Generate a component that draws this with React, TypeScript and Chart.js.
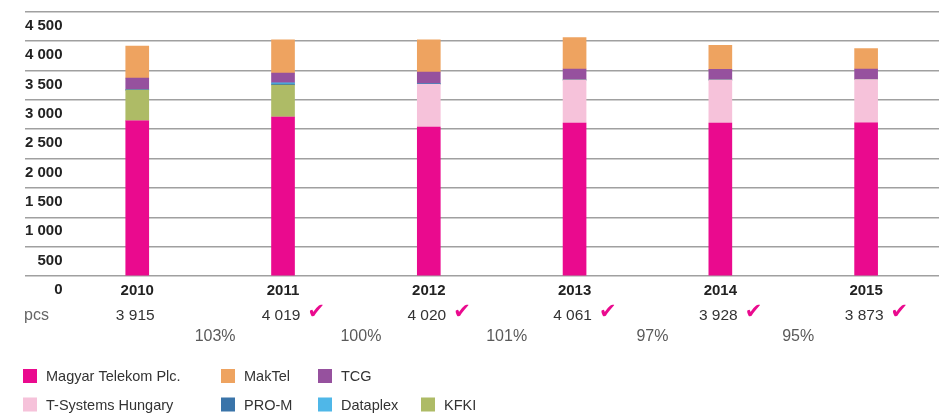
import React, { useEffect, useRef } from 'react';
import { Chart, registerables } from 'chart.js';

Chart.register(...registerables);

// ---- data ----
const years = [2010, 2011, 2012, 2013, 2014, 2015];
const magyarTelekom = [2640, 2707, 2537, 2605, 2605, 2610];
const tSystems = [0, 0, 727, 732, 732, 735];
const kfki = [525, 545, 0, 0, 0, 0];
const proM = [5, 15, 10, 0, 0, 0];
const dataplex = [0, 20, 0, 0, 0, 0];
const tcg = [200, 170, 199, 187, 182, 180];
const makTel = [545, 562, 547, 537, 409, 348];
const pcsTotals = [3915, 4019, 4020, 4061, 3928, 3873];
const pcsChecked = [false, true, true, true, true, true];
const changeLabels = ['103%', '100%', '101%', '97%', '95%'];
const unitLabel = 'pcs';
const legendRows = [
  ['Magyar Telekom Plc.', 'MakTel', 'TCG'],
  ['T-Systems Hungary', 'PRO-M', 'Dataplex', 'KFKI'],
];

const FONT = '"Liberation Sans", Arial, sans-serif';
const fmt = (n: number) => String(n).replace(/\B(?=(\d{3})+(?!\d))/g, ' ');

const COLORS: Record<string, string> = {
  'Magyar Telekom Plc.': '#EA0A8E',
  'T-Systems Hungary': '#F6C2DA',
  KFKI: '#AEBB66',
  'PRO-M': '#3A74A9',
  Dataplex: '#4FB7E8',
  TCG: '#96519E',
  MakTel: '#EEA360',
};

const belowAxisPlugin = {
  id: 'belowAxis',
  afterDraw(chart: any) {
    const { ctx, chartArea } = chart;
    const x = chart.scales.x;
    const base = chartArea.bottom;
    ctx.save();
    ctx.textBaseline = 'middle';

    // year labels
    ctx.textAlign = 'center';
    ctx.fillStyle = '#222';
    ctx.font = `bold 15px ${FONT}`;
    years.forEach((y) => ctx.fillText(String(y), x.getPixelForValue(y), base + 15));

    // unit
    ctx.textAlign = 'left';
    ctx.fillStyle = '#666';
    ctx.font = `16px ${FONT}`;
    ctx.fillText(unitLabel, chartArea.left - 1, base + 40);

    // totals
    years.forEach((y, i) => {
      const cx = x.getPixelForValue(y) - 2;
      ctx.font = `15.5px ${FONT}`;
      ctx.fillStyle = '#333';
      ctx.textAlign = 'center';
      const txt = fmt(pcsTotals[i]);
      ctx.fillText(txt, cx, base + 40);
      if (pcsChecked[i]) {
        const w = ctx.measureText(txt).width;
        ctx.textAlign = 'left';
        ctx.fillStyle = '#EA0A8E';
        ctx.font = `bold 21px "DejaVu Sans", sans-serif`;
        ctx.fillText('\u2714', cx + w / 2 + 7, base + 37);
      }
    });

    // year-over-year change
    ctx.textAlign = 'center';
    ctx.fillStyle = '#5a5a5a';
    ctx.font = `16px ${FONT}`;
    changeLabels.forEach((lbl, i) => {
      const mid = (x.getPixelForValue(years[i]) + x.getPixelForValue(years[i + 1])) / 2 + 5;
      ctx.fillText(lbl, mid, base + 61);
    });

    // legend
    const colX = [23, 221, 318, 421];
    const rowY = [376, 404.5];
    ctx.font = `14.5px ${FONT}`;
    ctx.textAlign = 'left';
    legendRows.forEach((row, r) => {
      row.forEach((name, c) => {
        const ds = chart.data.datasets.find((d: any) => d.label === name);
        ctx.fillStyle = ds ? ds.backgroundColor : '#999';
        ctx.fillRect(colX[c], rowY[r] - 7, 14, 14);
        ctx.fillStyle = '#333';
        ctx.fillText(name, colX[c] + 23, rowY[r] + 1);
      });
    });
    ctx.restore();
  },
};

export default function App() {
  const ref = useRef<HTMLCanvasElement | null>(null);
  useEffect(() => {
    if (!ref.current) return;
    const mk = (label: string, data: number[]) => ({
      label,
      data,
      backgroundColor: COLORS[label],
      borderWidth: 0,
      barThickness: 23,
    });
    const chart = new Chart(ref.current, {
      type: 'bar',
      data: {
        labels: years,
        datasets: [
          mk('Magyar Telekom Plc.', magyarTelekom),
          mk('T-Systems Hungary', tSystems),
          mk('KFKI', kfki),
          mk('PRO-M', proM),
          mk('Dataplex', dataplex),
          mk('TCG', tcg),
          mk('MakTel', makTel),
        ],
      },
      options: {
        responsive: false,
        animation: false,
        layout: { padding: { left: 25, right: 0, top: 11.7, bottom: 140 } },
        plugins: { legend: { display: false }, tooltip: { enabled: false } },
        scales: {
          x: {
            type: 'linear',
            stacked: true,
            offset: false,
            min: 2009.23,
            max: 2015.5,
            display: false,
          },
          y: {
            stacked: true,
            min: 0,
            max: 4500,
            ticks: {
              stepSize: 500,
              mirror: true,
              crossAlign: 'far',
              padding: 0,
              labelOffset: 14,
              color: '#222',
              font: { family: FONT, size: 15, weight: 'bold' },
              callback: (v: any) => fmt(Number(v)),
            },
            grid: { color: '#a0a0a0', lineWidth: 1.5, drawTicks: false },
            border: { display: false },
          },
        },
      } as any,
      plugins: [belowAxisPlugin],
    });
    return () => chart.destroy();
  }, []);
  return (
    <div style={{ position: 'fixed', left: 0, top: 0, width: 939, height: 416, background: '#fff' }}>
      <canvas ref={ref} width={939} height={416} />
    </div>
  );
}
